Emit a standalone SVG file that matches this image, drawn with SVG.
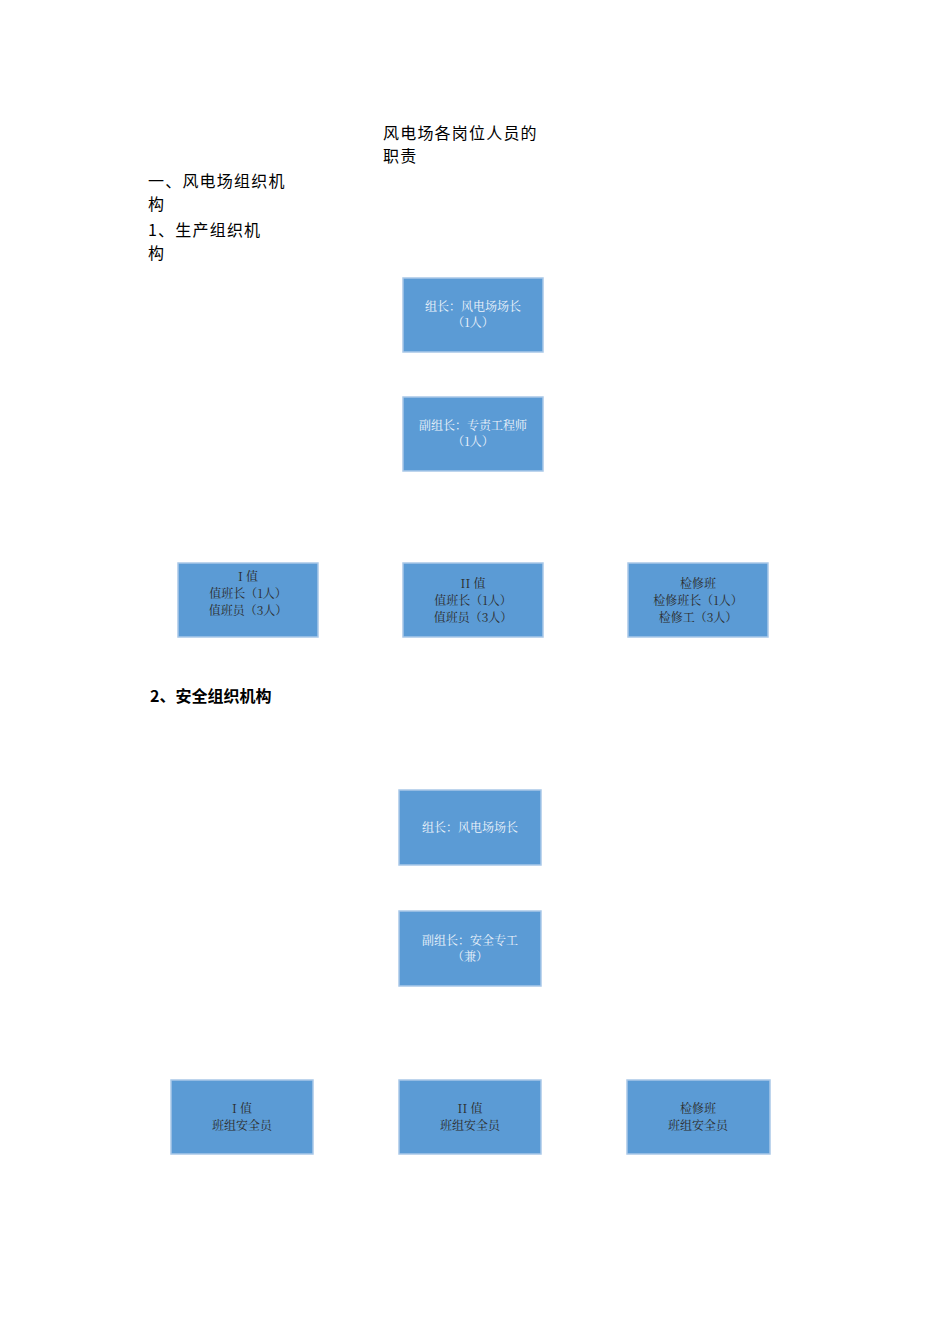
<svg xmlns="http://www.w3.org/2000/svg" width="950" height="1318" viewBox="0 0 950 1318">
<style>
.h{font-family:"Noto Sans CJK SC","Liberation Sans",sans-serif;font-size:16px;letter-spacing:1.2px;fill:#000}
.hb{font-family:"Noto Sans CJK SC","Liberation Sans",sans-serif;font-size:16px;font-weight:bold;fill:#000}
.b{fill:#5b9bd5;stroke:#a9c8e8;stroke-width:1.5}
.t{font-family:"Noto Serif CJK SC","Noto Sans CJK SC",serif;font-size:12px;fill:#eef4fb;text-anchor:middle}
.tp{font-family:"Noto Serif CJK SC","Noto Sans CJK SC",serif;font-size:12px;fill:#2b2b2b;text-anchor:middle}
</style>
<rect width="950" height="1318" fill="#fff"/>
<text class="h" x="383" y="139">风电场各岗位人员的</text>
<text class="h" x="383" y="162">职责</text>
<text class="h" x="148" y="187">一、风电场组织机</text>
<text class="h" x="148" y="210">构</text>
<text class="h" x="148" y="236">1、生产组织机</text>
<text class="h" x="148" y="259">构</text>
<text class="hb" x="150" y="702">2、安全组织机构</text>
<g id="connectors"/>
<g id="n1"><rect class="b" x="403" y="278" width="140" height="74"/><text class="t" x="473" y="311">组长：风电场场长</text><text class="t" x="473" y="327">（1人）</text></g>
<g id="n2"><rect class="b" x="403" y="397" width="140" height="74"/><text class="t" x="473" y="430">副组长：专责工程师</text><text class="t" x="473" y="446">（1人）</text></g>
<g id="n3"><rect class="b" x="178" y="563" width="140" height="74"/><text class="tp" x="248" y="581">I 值</text><text class="tp" x="248" y="598">值班长（1人）</text><text class="tp" x="248" y="615">值班员（3人）</text></g>
<g id="n4"><rect class="b" x="403" y="563" width="140" height="74"/><text class="tp" x="473" y="588">II 值</text><text class="tp" x="473" y="605">值班长（1人）</text><text class="tp" x="473" y="622">值班员（3人）</text></g>
<g id="n5"><rect class="b" x="628" y="563" width="140" height="74"/><text class="tp" x="698" y="588">检修班</text><text class="tp" x="698" y="605">检修班长（1人）</text><text class="tp" x="698" y="622">检修工（3人）</text></g>
<g id="s1"><rect class="b" x="399" y="790" width="142" height="75"/><text class="t" x="470" y="832">组长：风电场场长</text></g>
<g id="s2"><rect class="b" x="399" y="911" width="142" height="75"/><text class="t" x="470" y="945">副组长：安全专工</text><text class="t" x="470" y="961">（兼）</text></g>
<g id="s3"><rect class="b" x="171" y="1080" width="142" height="74"/><text class="tp" x="242" y="1113">I 值</text><text class="tp" x="242" y="1130">班组安全员</text></g>
<g id="s4"><rect class="b" x="399" y="1080" width="142" height="74"/><text class="tp" x="470" y="1113">II 值</text><text class="tp" x="470" y="1130">班组安全员</text></g>
<g id="s5"><rect class="b" x="627" y="1080" width="143" height="74"/><text class="tp" x="698" y="1113">检修班</text><text class="tp" x="698" y="1130">班组安全员</text></g>
</svg>
